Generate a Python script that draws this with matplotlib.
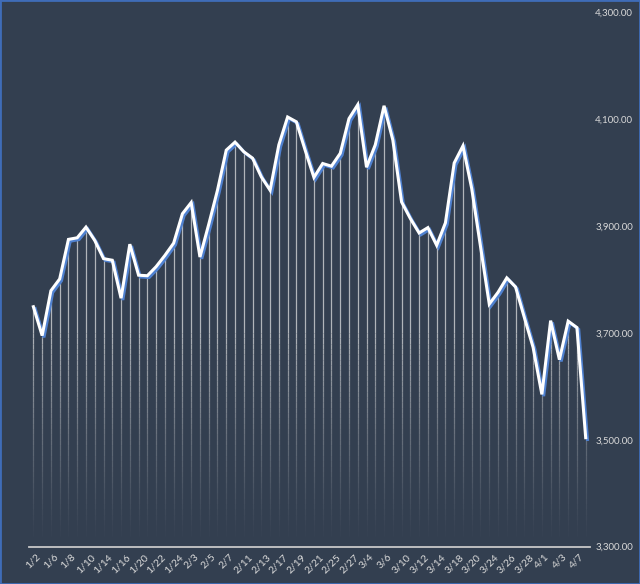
import matplotlib
matplotlib.use("Agg")
import matplotlib.pyplot as plt
import matplotlib.patheffects as pe
from matplotlib.patches import Rectangle
import numpy as np

# fechas (cada segunda lleva etiqueta)
fechas = ["1/2", "1/3", "1/6", "1/7", "1/8", "1/9", "1/10", "1/13", "1/14", "1/15",
          "1/16", "1/17", "1/20", "1/21", "1/22", "1/23", "1/24", "1/27", "2/3", "2/4",
          "2/5", "2/6", "2/7", "2/10", "2/11", "2/12", "2/13", "2/14", "2/17", "2/18",
          "2/19", "2/20", "2/21", "2/24", "2/25", "2/26", "2/27", "2/28", "3/4", "3/5",
          "3/6", "3/7", "3/10", "3/11", "3/12", "3/13", "3/14", "3/17", "3/18", "3/19",
          "3/20", "3/21", "3/24", "3/25", "3/26", "3/27", "3/28", "3/31", "4/1", "4/2",
          "4/3", "4/4", "4/7", "4/8"]

valores = [3749, 3695, 3779, 3801, 3875, 3878, 3898, 3873, 3839, 3836,
           3765, 3866, 3808, 3807, 3824, 3845, 3868, 3923, 3944, 3842,
           3903, 3967, 4042, 4057, 4039, 4027, 3992, 3967, 4052, 4104,
           4095, 4042, 3991, 4017, 4012, 4036, 4101, 4127, 4010, 4052,
           4125, 4061, 3945, 3914, 3887, 3897, 3864, 3906, 4018, 4050,
           3970, 3862, 3754, 3776, 3803, 3786, 3729, 3673, 3585, 3723,
           3650, 3722, 3710, 3504]

y_min, y_max = 3300, 4300
y_ticks = [3300, 3500, 3700, 3900, 4100, 4300]

fondo = "#333F50"
texto = "#D9D9D9"

fig = plt.figure(figsize=(6.4, 5.84), dpi=100, facecolor=fondo)
ax = fig.add_axes([0.0453, 0.0639, 0.8767, 0.9151], facecolor=fondo)

x = np.arange(len(valores))
v = np.array(valores, dtype=float)

# lineas verticales con degradado hacia abajo
bandas = np.linspace(y_min, 3700, 41)
for lo, hi in zip(bandas[:-1], bandas[1:]):
    alfa = 0.7 * ((lo - y_min) / (3700 - y_min)) ** 1.3
    m = v > lo
    ax.vlines(x[m], lo, np.minimum(v[m], hi), color="#E8E8E8", alpha=alfa, lw=0.9, zorder=1)
m = v > 3700
ax.vlines(x[m], 3700, v[m], color="#E8E8E8", alpha=0.7, lw=0.9, zorder=1)

# linea principal
ax.plot(x, v, color="white", lw=2.2, solid_joinstyle="miter", zorder=3,
        path_effects=[pe.SimpleLineShadow(offset=(1.3, -1.3), shadow_color="#4F81D0", alpha=1.0),
                      pe.Normal()])

ax.set_xlim(-0.5, len(valores) - 0.5)
ax.set_ylim(y_min, y_max)

for s in ["top", "left", "right"]:
    ax.spines[s].set_visible(False)
ax.spines["bottom"].set_color("#C8C8C8")
ax.spines["bottom"].set_linewidth(1.3)

ax.set_xticks(x[::2])
ax.set_xticklabels(fechas[::2], rotation=45, ha="center", va="top",
                   fontsize=7.5, color=texto, family="Lato")
ax.tick_params(axis="x", length=0, pad=4)

ax.yaxis.tick_right()
ax.set_yticks(y_ticks)
ax.set_yticklabels([f"{t:,.2f}" for t in y_ticks], fontsize=7, color=texto, family="Lato")
for lab in ax.get_yticklabels():
    lab.set_horizontalalignment("right")
ax.tick_params(axis="y", length=0, pad=31)

fig.patches.append(Rectangle((0, 0), 1, 1, transform=fig.transFigure, fill=False,
                             edgecolor="#3F6CB8", linewidth=2.0))

fig.savefig("out.png", dpi=100, facecolor=fondo)
